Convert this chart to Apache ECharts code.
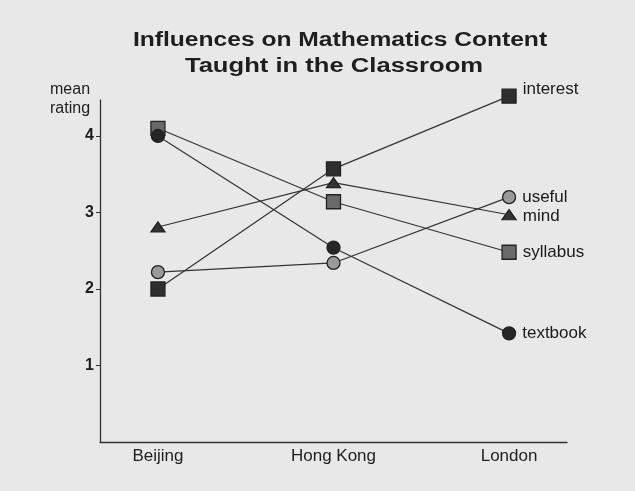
<!DOCTYPE html>
<html>
<head>
<meta charset="utf-8">
<script src="https://cdn.jsdelivr.net/npm/echarts@6/dist/echarts.min.js"></script>
<style>
html,body{margin:0;padding:0;background:#e8e8e8;}
#c{width:635px;height:491px;}
</style>
</head>
<body>
<div id="c"></div>
<script>
var categories = ['Beijing', 'Hong Kong', 'London'];
var yTicks = [1, 2, 3, 4];
var titleLines = ['Influences on Mathematics Content', 'Taught in the Classroom'];
var interest = [2.0, 3.57, 4.52];
var syllabus = [4.1, 3.14, 2.48];
var textbook = [4.0, 2.54, 1.42];
var mind = [2.81, 3.39, 2.97];
var useful = [2.22, 2.34, 3.2];

var seriesDefs = [
  {name: 'interest', values: interest, symbol: 'rect', size: 14, fill: '#2e2e2e', labelOffset: [0, -7]},
  {name: 'syllabus', values: syllabus, symbol: 'rect', size: 14, fill: '#6a6a6a', labelOffset: [0, 0]},
  {name: 'textbook', values: textbook, symbol: 'circle', size: 13, fill: '#262626', labelOffset: [0, 0]},
  {name: 'mind', values: mind, symbol: 'triangle', size: [14, 10], fill: '#333333', labelOffset: [0, 2]},
  {name: 'useful', values: useful, symbol: 'circle', size: 13, fill: '#9a9a9a', labelOffset: [0, 0]}
];

var series = seriesDefs.map(function (d) {
  return {
    name: d.name,
    type: 'line',
    symbol: d.symbol,
    symbolSize: d.size,
    showAllSymbol: true,
    clip: false,
    z: 3,
    lineStyle: {color: '#333', width: 1.2},
    itemStyle: {color: d.fill, borderColor: '#222', borderWidth: 1.3},
    emphasis: {disabled: true},
    data: d.values.map(function (v, i) {
      var item = {value: [i, v]};
      if (i === d.values.length - 1) {
        item.label = {
          show: true,
          position: 'right',
          distance: 6,
          offset: d.labelOffset,
          formatter: d.name,
          color: '#1a1a1a',
          fontSize: 17,
          fontFamily: 'Liberation Sans, Arial, sans-serif'
        };
      }
      return item;
    })
  };
});

var chart = echarts.init(document.getElementById('c'));
chart.setOption({
  backgroundColor: '#e8e8e8',
  animation: false,
  graphic: [{
    type: 'text',
    x: 340,
    y: 30,
    scaleX: 1.23,
    style: {
      text: titleLines[0],
      align: 'center',
      verticalAlign: 'top',
      font: 'bold 20px "Liberation Sans", Arial, sans-serif',
      fill: '#1e1e1e'
    }
  }, {
    type: 'text',
    x: 334,
    y: 56,
    scaleX: 1.28,
    style: {
      text: titleLines[1],
      align: 'center',
      verticalAlign: 'top',
      font: 'bold 20px "Liberation Sans", Arial, sans-serif',
      fill: '#1e1e1e'
    }
  }, {
    type: 'text',
    left: 50,
    top: 80,
    style: {
      text: 'mean\nrating',
      font: '16px "Liberation Sans", Arial, sans-serif',
      lineHeight: 19,
      fill: '#1e1e1e'
    }
  }],
  grid: {left: 100, right: 68, top: 100, bottom: 49},
  xAxis: {
    type: 'value',
    min: -0.33,
    max: 2.33,
    splitLine: {show: false},
    axisLine: {show: true, onZero: false, lineStyle: {color: '#333', width: 1.3}},
    axisTick: {show: false},
    axisLabel: {
      customValues: [0, 1, 2],
      formatter: function (v) { return categories[Math.round(v)]; },
      fontSize: 17,
      margin: 6,
      color: '#1e1e1e',
      fontFamily: 'Liberation Sans, Arial, sans-serif'
    }
  },
  yAxis: {
    type: 'value',
    min: 0,
    max: 4.47,
    splitLine: {show: false},
    axisLine: {show: true, onZero: false, lineStyle: {color: '#333', width: 1.3}},
    axisTick: {show: true, customValues: yTicks, length: 4, lineStyle: {color: '#333'}},
    axisLabel: {
      customValues: yTicks,
      fontSize: 16,
      fontWeight: 'bold',
      margin: 6,
      color: '#1e1e1e',
      fontFamily: 'Liberation Sans, Arial, sans-serif'
    }
  },
  series: series
});
</script>
</body>
</html>
